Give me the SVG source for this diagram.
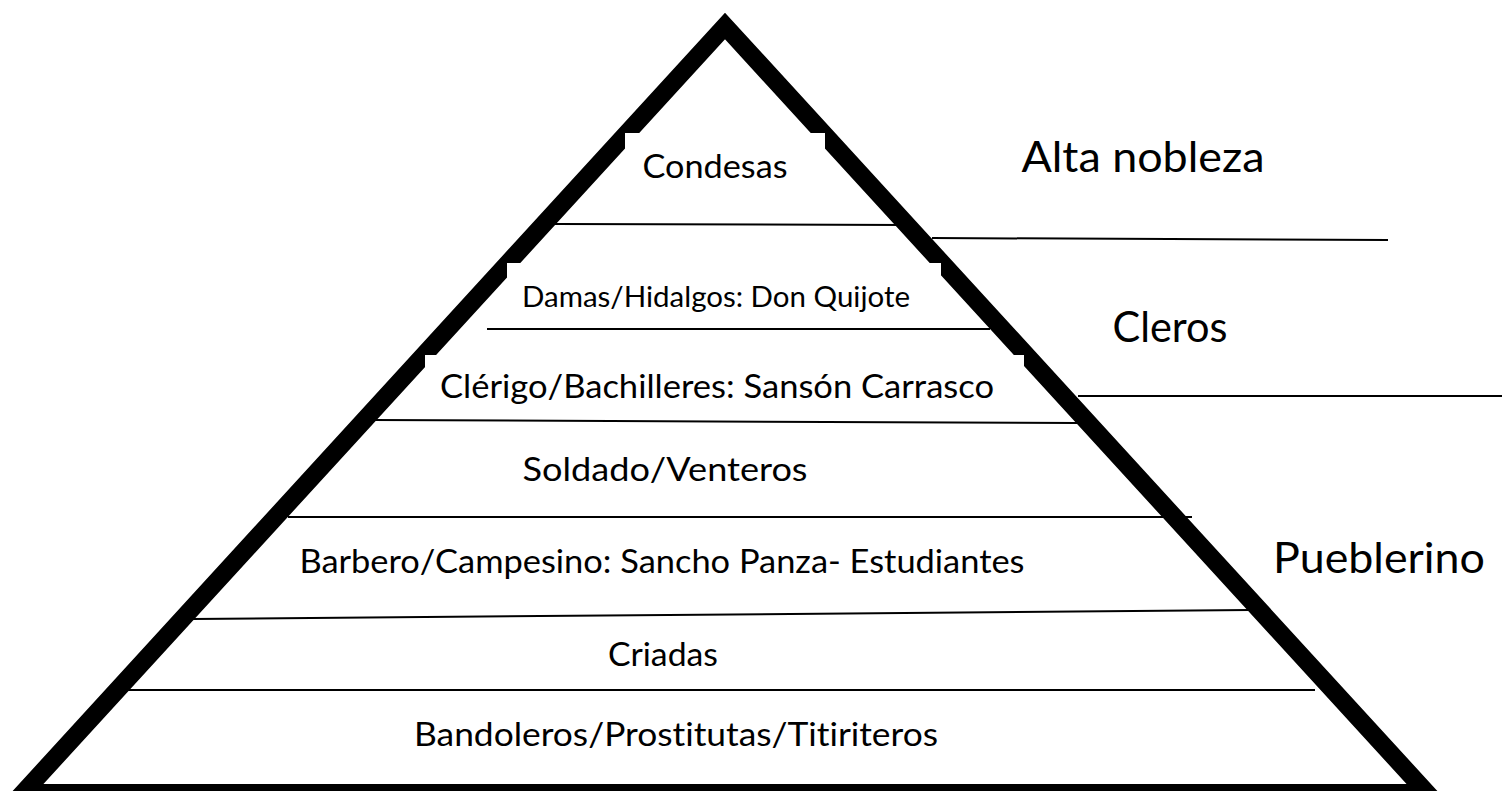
<svg xmlns="http://www.w3.org/2000/svg" width="1502" height="791" viewBox="0 0 1502 791">
<style>
.t{font-family:Lato,"Open Sans","Liberation Sans",sans-serif;fill:#000;text-anchor:middle;font-variant-ligatures:none;font-feature-settings:"liga" 0,"clig" 0}
.m{font-size:33px}
.s{font-size:29px}
.l{font-size:43px}
.ln{stroke:#000;stroke-width:2;fill:none}
.box{fill:#fff;stroke:none}
</style>
<rect width="1502" height="791" fill="#fff"/>
<g id="pyramid">
<path d="M725,26 L1427,793 L23,793 Z" fill="none" stroke="#000" stroke-width="18" stroke-linejoin="miter"/>
</g>
<g id="node-condesas">
<rect class="box" x="625" y="133" width="200" height="80"/>
<text class="t m" x="715" y="178" textLength="145" lengthAdjust="spacingAndGlyphs">Condesas</text>
</g>
<g id="node-damas">
<rect class="box" x="507" y="263" width="434" height="60"/>
<text class="t s" x="716" y="307" textLength="388" lengthAdjust="spacingAndGlyphs">Damas/Hidalgos: Don Quijote</text>
</g>
<g id="node-clerigo">
<rect class="box" x="425" y="355" width="599" height="60"/>
<text class="t m" x="717" y="398" textLength="554" lengthAdjust="spacingAndGlyphs">Clérigo/Bachilleres: Sansón Carrasco</text>
</g>
<g id="node-soldado">
<text class="t m" x="665" y="481" textLength="285" lengthAdjust="spacingAndGlyphs">Soldado/Venteros</text>
</g>
<g id="node-barbero">
<text class="t m" x="662" y="573" textLength="725" lengthAdjust="spacingAndGlyphs">Barbero/Campesino: Sancho Panza- Estudiantes</text>
</g>
<g id="node-criadas">
<text class="t m" x="663" y="666" textLength="110" lengthAdjust="spacingAndGlyphs">Criadas</text>
</g>
<g id="node-bandoleros">
<text class="t m" x="676" y="746" textLength="524" lengthAdjust="spacingAndGlyphs">Bandoleros/Prostitutas/Titiriteros</text>
</g>
<g id="label-alta">
<text class="t l" x="1143" y="172" textLength="243" lengthAdjust="spacingAndGlyphs">Alta nobleza</text>
</g>
<g id="label-cleros">
<text class="t l" x="1170" y="342" textLength="115" lengthAdjust="spacingAndGlyphs">Cleros</text>
</g>
<g id="label-pueblerino">
<text class="t l" x="1379" y="573" textLength="212" lengthAdjust="spacingAndGlyphs">Pueblerino</text>
</g>
<g id="connectors">
<line class="ln" x1="555" y1="224" x2="906" y2="225"/>
<line class="ln" x1="932" y1="238" x2="1388" y2="240"/>
<line class="ln" x1="487" y1="329" x2="990" y2="329"/>
<line class="ln" x1="372" y1="420" x2="1078" y2="423"/>
<line class="ln" x1="1078" y1="396" x2="1502" y2="396"/>
<line class="ln" x1="288" y1="517" x2="1192" y2="517"/>
<line class="ln" x1="193" y1="619" x2="1250" y2="610"/>
<line class="ln" x1="128" y1="690" x2="1315" y2="690"/>
</g>
</svg>
